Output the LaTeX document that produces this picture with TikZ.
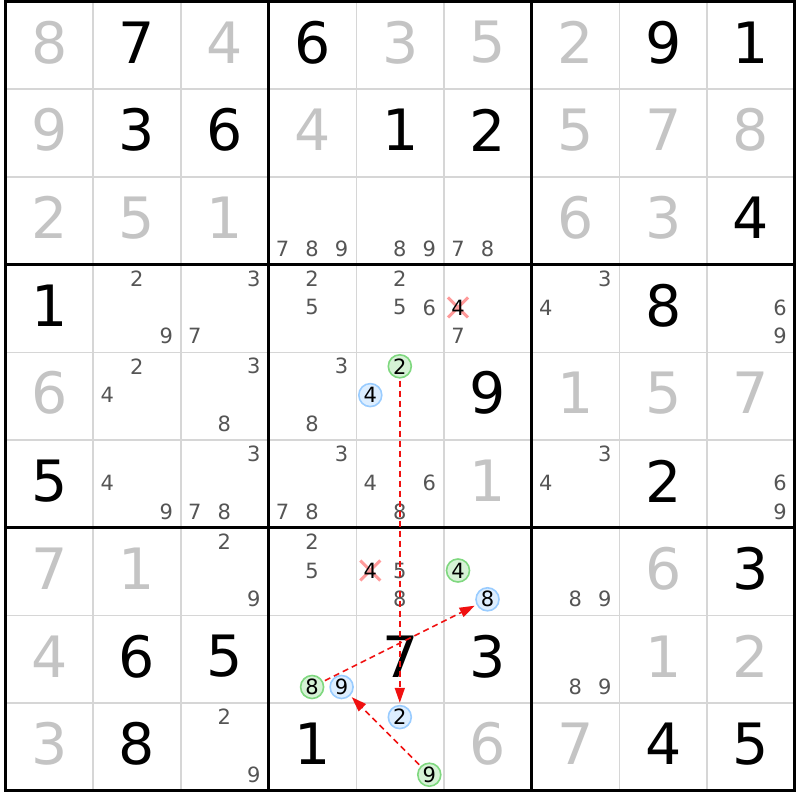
\documentclass[tikz,border=0pt]{standalone}
\usepackage{fontspec}
\setmainfont{DejaVu Sans}
\usetikzlibrary{arrows.meta}
\definecolor{solvedc}{HTML}{C4C4C4}
\definecolor{candc}{HTML}{555555}
\definecolor{thinc}{HTML}{D6D6D6}
\definecolor{grnB}{HTML}{7FD87F}
\definecolor{grnF}{HTML}{D6F2D6}
\definecolor{bluB}{HTML}{99CCFF}
\definecolor{bluF}{HTML}{DDEEFF}
\definecolor{xcol}{HTML}{FF9A9A}
\definecolor{arrc}{HTML}{F01010}
\pgfdeclarelayer{bg}
\pgfsetlayers{bg,main}
\newcommand\cellsz{87.7}
\newcommand\gridx{5.5}
\newcommand\gridy{1.5}
\newcommand\bigd[4]{\node[#4] (b#1#2) at ({\gridx+(#2-0.5)*\cellsz}, {\gridy+(#1-0.5)*\cellsz-3}) {#3};}
\newcommand\cand[4]{%
  \pgfmathsetmacro\cndci{int(mod(#3-1,3))}%
  \pgfmathsetmacro\cndri{int((#3-1)/3)}%
  \node[#4] (k#1#2#3) at ({\gridx+(#2-1)*\cellsz+14+29.5*\cndci}, {\gridy+(#1-1)*\cellsz+14+28.8*\cndri}) {#3};}
\newcommand\strk[3]{%
  \cand{#1}{#2}{#3}{struck}%
  \begin{pgfonlayer}{bg}
  \draw[xline] ([shift={(-10,-10)}]k#1#2#3.center) -- ([shift={(10,10)}]k#1#2#3.center)
               ([shift={(-10,10)}]k#1#2#3.center) -- ([shift={(10,-10)}]k#1#2#3.center);
  \end{pgfonlayer}}
\begin{document}
\begin{tikzpicture}[x=1pt,y=-1pt,
  given/.style={font=\fontsize{57}{57}\selectfont, text=black, inner sep=0pt},
  solved/.style={given, text=solvedc},
  cnd/.style={font=\fontsize{21}{21}\selectfont, text=candc, inner sep=0pt},
  struck/.style={cnd, text=black},
  grn/.style={cnd, text=black, circle, draw=grnB, fill=grnF, line width=1.6pt, minimum size=23pt},
  blu/.style={cnd, text=black, circle, draw=bluB, fill=bluF, line width=1.6pt, minimum size=23pt},
  xline/.style={xcol, line width=3pt},
  arr/.style={arrc, line width=1.6pt, dash pattern=on 6pt off 4pt, shorten <=2pt, shorten >=2pt,
    -{Triangle[length=15pt,width=10pt]}},
  thin/.style={thinc, line width=1.6pt},
  thick/.style={black, line width=3pt}]
\begin{pgfonlayer}{bg}
\fill[white] (0,0) rectangle (800,800);
\end{pgfonlayer}
\useasboundingbox (0,0) rectangle (800,800);
% grid
\foreach \i in {1,2,4,5,7,8}{
  \draw[thin] ({\gridx+\i*\cellsz},\gridy) -- ({\gridx+\i*\cellsz},{\gridy+9*\cellsz});
  \draw[thin] (\gridx,{\gridy+\i*\cellsz}) -- ({\gridx+9*\cellsz},{\gridy+\i*\cellsz});
}
\foreach \i in {0,3,6,9}{
  \draw[thick] ({\gridx+\i*\cellsz},{\gridy-1.5}) -- ({\gridx+\i*\cellsz},{\gridy+9*\cellsz+1.5});
  \draw[thick] ({\gridx-1.5},{\gridy+\i*\cellsz}) -- ({\gridx+9*\cellsz+1.5},{\gridy+\i*\cellsz});
}
% row 1
\bigd{1}{1}{8}{solved} \bigd{1}{2}{7}{given} \bigd{1}{3}{4}{solved}
\bigd{1}{4}{6}{given} \bigd{1}{5}{3}{solved} \bigd{1}{6}{5}{solved}
\bigd{1}{7}{2}{solved} \bigd{1}{8}{9}{given} \bigd{1}{9}{1}{given}
% row 2
\bigd{2}{1}{9}{solved} \bigd{2}{2}{3}{given} \bigd{2}{3}{6}{given}
\bigd{2}{4}{4}{solved} \bigd{2}{5}{1}{given} \bigd{2}{6}{2}{given}
\bigd{2}{7}{5}{solved} \bigd{2}{8}{7}{solved} \bigd{2}{9}{8}{solved}
% row 3
\bigd{3}{1}{2}{solved} \bigd{3}{2}{5}{solved} \bigd{3}{3}{1}{solved}
\cand{3}{4}{7}{cnd} \cand{3}{4}{8}{cnd} \cand{3}{4}{9}{cnd}
\cand{3}{5}{8}{cnd} \cand{3}{5}{9}{cnd}
\cand{3}{6}{7}{cnd} \cand{3}{6}{8}{cnd}
\bigd{3}{7}{6}{solved} \bigd{3}{8}{3}{solved} \bigd{3}{9}{4}{given}
% row 4
\bigd{4}{1}{1}{given}
\cand{4}{2}{2}{cnd} \cand{4}{2}{9}{cnd}
\cand{4}{3}{3}{cnd} \cand{4}{3}{7}{cnd}
\cand{4}{4}{2}{cnd} \cand{4}{4}{5}{cnd}
\cand{4}{5}{2}{cnd} \cand{4}{5}{5}{cnd} \cand{4}{5}{6}{cnd}
\strk{4}{6}{4} \cand{4}{6}{7}{cnd}
\cand{4}{7}{3}{cnd} \cand{4}{7}{4}{cnd}
\bigd{4}{8}{8}{given}
\cand{4}{9}{6}{cnd} \cand{4}{9}{9}{cnd}
% row 5
\bigd{5}{1}{6}{solved}
\cand{5}{2}{2}{cnd} \cand{5}{2}{4}{cnd}
\cand{5}{3}{3}{cnd} \cand{5}{3}{8}{cnd}
\cand{5}{4}{3}{cnd} \cand{5}{4}{8}{cnd}
\cand{5}{5}{2}{grn} \cand{5}{5}{4}{blu}
\bigd{5}{6}{9}{given}
\bigd{5}{7}{1}{solved} \bigd{5}{8}{5}{solved} \bigd{5}{9}{7}{solved}
% row 6
\bigd{6}{1}{5}{given}
\cand{6}{2}{4}{cnd} \cand{6}{2}{9}{cnd}
\cand{6}{3}{3}{cnd} \cand{6}{3}{7}{cnd} \cand{6}{3}{8}{cnd}
\cand{6}{4}{3}{cnd} \cand{6}{4}{7}{cnd} \cand{6}{4}{8}{cnd}
\cand{6}{5}{4}{cnd} \cand{6}{5}{6}{cnd} \cand{6}{5}{8}{cnd}
\bigd{6}{6}{1}{solved}
\cand{6}{7}{3}{cnd} \cand{6}{7}{4}{cnd}
\bigd{6}{8}{2}{given}
\cand{6}{9}{6}{cnd} \cand{6}{9}{9}{cnd}
% row 7
\bigd{7}{1}{7}{solved} \bigd{7}{2}{1}{solved}
\cand{7}{3}{2}{cnd} \cand{7}{3}{9}{cnd}
\cand{7}{4}{2}{cnd} \cand{7}{4}{5}{cnd}
\strk{7}{5}{4} \cand{7}{5}{5}{cnd} \cand{7}{5}{8}{cnd}
\cand{7}{6}{4}{grn} \cand{7}{6}{8}{blu}
\cand{7}{7}{8}{cnd} \cand{7}{7}{9}{cnd}
\bigd{7}{8}{6}{solved} \bigd{7}{9}{3}{given}
% row 8
\bigd{8}{1}{4}{solved} \bigd{8}{2}{6}{given} \bigd{8}{3}{5}{given}
\cand{8}{4}{8}{grn} \cand{8}{4}{9}{blu}
\bigd{8}{5}{7}{given} \bigd{8}{6}{3}{given}
\cand{8}{7}{8}{cnd} \cand{8}{7}{9}{cnd}
\bigd{8}{8}{1}{solved} \bigd{8}{9}{2}{solved}
% row 9
\bigd{9}{1}{3}{solved} \bigd{9}{2}{8}{given}
\cand{9}{3}{2}{cnd} \cand{9}{3}{9}{cnd}
\bigd{9}{4}{1}{given}
\cand{9}{5}{2}{blu} \cand{9}{5}{9}{grn}
\bigd{9}{6}{6}{solved}
\bigd{9}{7}{7}{solved} \bigd{9}{8}{4}{given} \bigd{9}{9}{5}{given}
% chain
\draw[arr] (k552) -- (k952);
\draw[arr] (k848) -- (k768);
\draw[arr] (k959) -- (k849);
\end{tikzpicture}
\end{document}
